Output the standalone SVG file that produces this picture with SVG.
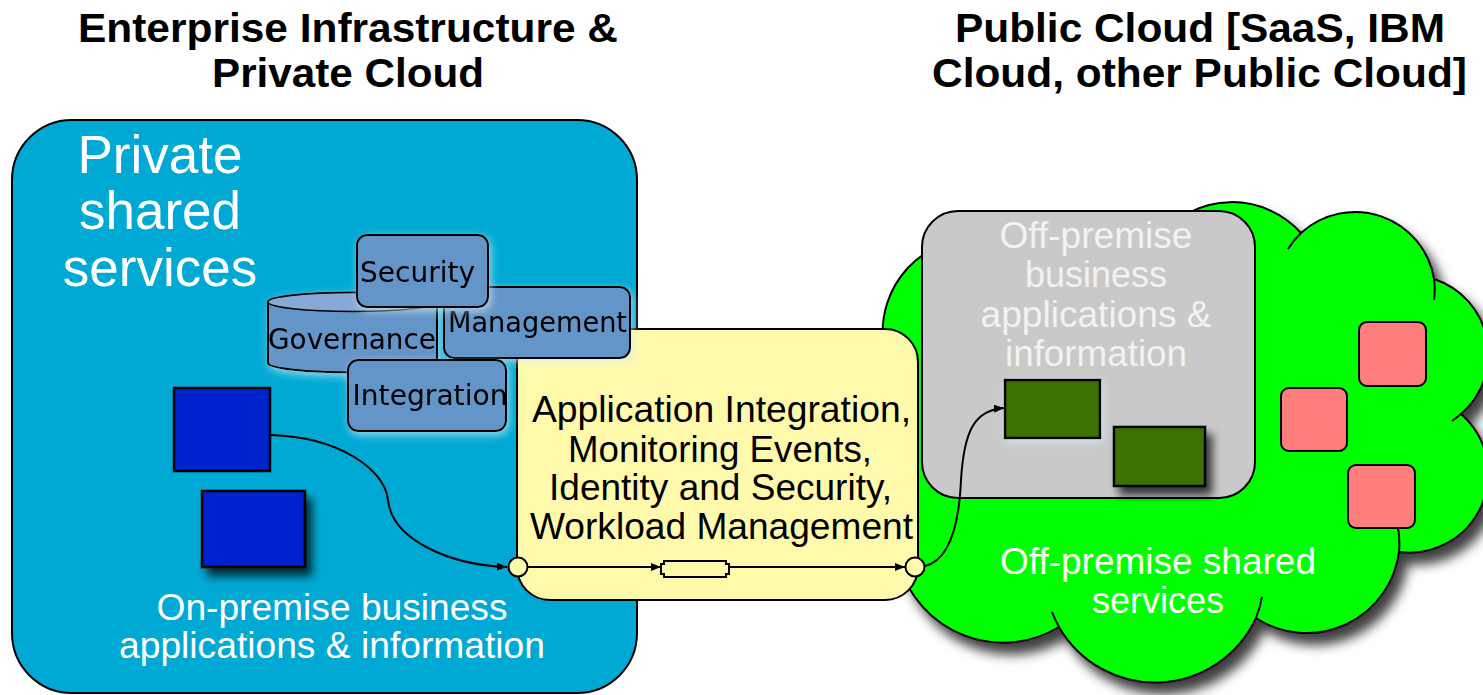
<svg xmlns="http://www.w3.org/2000/svg" width="1483" height="695" viewBox="0 0 1483 695">
<defs>
<style>
.title{font-family:"Liberation Sans",Arial,sans-serif;font-weight:bold;font-size:41px;fill:#000;text-anchor:middle}
.wht{font-family:"Liberation Sans",Arial,sans-serif;fill:#fff;font-size:36px;text-anchor:middle}
.big{font-family:"Liberation Sans",Arial,sans-serif;fill:#fff;font-size:53px;text-anchor:middle}
.gry{font-family:"Liberation Sans",Arial,sans-serif;fill:#f2f2f2;font-size:36px;text-anchor:middle}
.blk{font-family:"Liberation Sans",Arial,sans-serif;fill:#000;font-size:36px;text-anchor:middle}
.svc{font-family:"DejaVu Sans Condensed","DejaVu Sans",sans-serif;font-size:29px;fill:#000;text-anchor:middle}
.svcbox{fill:#6495C8;stroke:#000;stroke-width:2}
.ln{fill:none;stroke:#000;stroke-width:2}
.port{fill:#FFFAAB;stroke:#000;stroke-width:2}
.pink{fill:#FF7F7F;stroke:#000;stroke-width:2}
.dg{fill:#3E7200;stroke:#000;stroke-width:2.5}
.db{fill:#0022CC;stroke:#000;stroke-width:2.5}
</style>
<filter id="shadow" x="-20%" y="-20%" width="150%" height="150%">
<feDropShadow dx="6" dy="8" stdDeviation="5" flood-color="#000" flood-opacity="0.75"/>
</filter>
<filter id="cshadow" x="-10%" y="-10%" width="130%" height="130%">
<feDropShadow dx="8" dy="11" stdDeviation="6" flood-color="#000" flood-opacity="0.75"/>
</filter>
<filter id="glow" x="-20%" y="-20%" width="150%" height="150%">
<feDropShadow dx="2" dy="3" stdDeviation="4" flood-color="#d8eef6" flood-opacity="0.7"/>
</filter>
<marker id="ah" viewBox="0 0 10 8" refX="10" refY="4" markerWidth="10" markerHeight="8" markerUnits="userSpaceOnUse" orient="auto">
<path d="M0,0 L10,4 L0,8 Z" fill="#000"/>
</marker>
</defs>

<rect width="1483" height="695" fill="#fff"/>

<g id="titles">
<text class="title" x="348" y="42" textLength="540" lengthAdjust="spacingAndGlyphs">Enterprise Infrastructure &amp;</text>
<text class="title" x="348" y="87" textLength="272" lengthAdjust="spacingAndGlyphs">Private Cloud</text>
<text class="title" x="1200" y="42" textLength="490" lengthAdjust="spacingAndGlyphs">Public Cloud [SaaS, IBM</text>
<text class="title" x="1199.5" y="87" textLength="535" lengthAdjust="spacingAndGlyphs">Cloud, other Public Cloud]</text>
</g>

<g id="private-cloud">
<rect x="12" y="120" width="625" height="573" rx="60" ry="60" fill="#00A9D4" stroke="#000" stroke-width="2"/>
<text class="big" x="160" y="173">Private</text>
<text class="big" x="160" y="229">shared</text>
<text class="big" x="160" y="286">services</text>
<text class="wht" x="332" y="620" textLength="351" lengthAdjust="spacingAndGlyphs">On-premise business</text>
<text class="wht" x="332" y="658" textLength="426" lengthAdjust="spacingAndGlyphs">applications &amp; information</text>
</g>

<g id="public-cloud">
<path filter="url(#cshadow)" fill="#00FF00" stroke="#000" stroke-width="2" d="M883,340 A94,94 0 0,1 977,238 L1160,236 A93,93 0 0,1 1301,233 A80,80 0 0,1 1434,279 A79,79 0 0,1 1461,414 A79,79 0 0,1 1399,552 A93,93 0 0,1 1256,618 A111,111 0 0,1 1059,627 A108,108 0 0,1 900,567 Z"/>
<path class="ln" d="M1301,233 A80,80 0 0,0 1288,249 M1434,279 A80,80 0 0,1 1434,300 M1461,414 A79,79 0 0,1 1452,421 M1399,552 A93,93 0 0,0 1398,528 M1256,618 A111,111 0 0,0 1262,597 M1059,627 A111,111 0 0,1 1052,612"/>
<text class="wht" x="1158" y="574" textLength="316" lengthAdjust="spacingAndGlyphs">Off-premise shared</text>
<text class="wht" x="1158" y="613">services</text>
</g>

<g id="offprem-apps">
<rect x="922" y="211" width="333" height="287" rx="36" ry="36" fill="#C9C9C9" stroke="#000" stroke-width="2"/>
<text class="gry" x="1096" y="248" textLength="193" lengthAdjust="spacingAndGlyphs">Off-premise</text>
<text class="gry" x="1096" y="287">business</text>
<text class="gry" x="1096" y="327" textLength="231" lengthAdjust="spacingAndGlyphs">applications &amp;</text>
<text class="gry" x="1096" y="366" textLength="182" lengthAdjust="spacingAndGlyphs">information</text>
</g>

<g id="app-green-1"><rect class="dg" x="1005" y="380" width="95" height="58" filter="url(#glow)"/></g>
<g id="app-green-2"><rect class="dg" x="1114" y="427" width="91" height="59" filter="url(#shadow)"/></g>

<g id="svc-pink-1"><rect class="pink" x="1359" y="322" width="67" height="64" rx="8"/></g>
<g id="svc-pink-2"><rect class="pink" x="1281" y="388" width="66" height="63" rx="8"/></g>
<g id="svc-pink-3"><rect class="pink" x="1348" y="465" width="67" height="63" rx="8"/></g>

<g id="integration-hub">
<rect x="517" y="329" width="401" height="271" rx="33" ry="33" fill="#FFFAAB" stroke="#000" stroke-width="2"/>
<text class="blk" x="721.5" y="422" textLength="379" lengthAdjust="spacingAndGlyphs">Application Integration,</text>
<text class="blk" x="720" y="462" textLength="304" lengthAdjust="spacingAndGlyphs">Monitoring Events,</text>
<text class="blk" x="720.5" y="500" textLength="343" lengthAdjust="spacingAndGlyphs">Identity and Security,</text>
<text class="blk" x="721.5" y="539" textLength="383" lengthAdjust="spacingAndGlyphs">Workload Management</text>
</g>

<g id="governance" filter="url(#glow)">
<path class="svcbox" d="M268,302 V363 A84.5,9.5 0 0,0 437,363 V302 A84.5,9.5 0 0,0 268,302 Z"/>
<ellipse cx="352.5" cy="302" rx="84.5" ry="9.5" fill="#86A9D6" stroke="#000" stroke-width="1.5"/>
<text class="svc" x="352" y="349" textLength="168" lengthAdjust="spacingAndGlyphs">Governance</text>
</g>
<g id="management" filter="url(#glow)">
<rect class="svcbox" x="444" y="287" width="186" height="71" rx="10"/>
<text class="svc" x="537.5" y="332" textLength="179" lengthAdjust="spacingAndGlyphs">Management</text>
</g>
<g id="security" filter="url(#glow)">
<rect class="svcbox" x="357" y="235" width="131" height="72" rx="10"/>
<text class="svc" x="417.5" y="282" textLength="115" lengthAdjust="spacingAndGlyphs">Security</text>
</g>
<g id="integration" filter="url(#glow)">
<rect class="svcbox" x="348" y="360" width="158" height="71" rx="10"/>
<text class="svc" x="430" y="405" textLength="155" lengthAdjust="spacingAndGlyphs">Integration</text>
</g>

<g id="app-blue-1"><rect class="db" x="174" y="388" width="96" height="83"/></g>
<g id="app-blue-2"><rect class="db" x="202" y="491" width="103" height="76" filter="url(#shadow)"/></g>

<g id="connectors">
<path class="ln" marker-end="url(#ah)" d="M271,435 C340,437 385,470 388,500 C392,540 450,565 507,567"/>
<path class="ln" marker-end="url(#ah)" d="M527,567 L661,567"/>
<path class="ln" marker-end="url(#ah)" d="M729,567 L905,567"/>
<path class="ln" marker-end="url(#ah)" d="M925,566 C950,560 959,525 961,480 C964,430 975,410 1004,408"/>
</g>

<g id="queue">
<path fill="#FFFAAB" stroke="#000" stroke-width="2" d="M664,561 H726 V564 H729 V574 H726 V577 H664 V574 H661 V564 H664 Z"/>
</g>
<g id="port-in"><circle class="port" cx="518" cy="567" r="9.5"/></g>
<g id="port-out"><circle class="port" cx="915" cy="567" r="9.5"/></g>
</svg>
